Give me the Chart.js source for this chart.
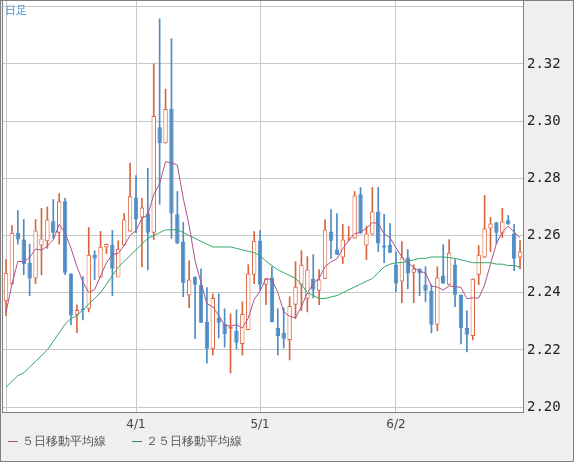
<!DOCTYPE html>
<html>
<head>
<meta charset="utf-8">
<script src="https://cdn.jsdelivr.net/npm/chart.js@4"></script>
<style>
  body { margin: 0; background: #fff; font-family: "DejaVu Sans", sans-serif; }
  #wrap { position: relative; width: 574px; height: 462px; }
  #title { position: absolute; left: 5px; top: 3px; font-size: 11px; color: #3a9ad9; }
  #legend { position: absolute; left: 8px; top: 433px; font-size: 12px; color: #555; }
  #legend span.ln { display: inline-block; width: 10px; height: 1px; vertical-align: middle; margin-right: 4px; }
</style>
</head>
<body>
<div id="wrap">
  <canvas id="chart" width="574" height="462"></canvas>
  <div id="title">日足</div>
  <div id="legend">
    <span class="ln" style="background:#b0528a"></span>５日移動平均線
    <span class="ln" style="background:#2e8b57;margin-left:22px"></span>２５日移動平均線
  </div>
</div>
<script>
// daily OHLC
const opens = [2.237,2.243,2.261,2.2586,2.2505,2.245,2.2565,2.258,2.265,2.261,2.272,2.2467,2.2323,2.2344,2.2344,2.2533,2.2453,2.2558,2.2568,2.2453,2.2565,2.2614,2.2733,2.2663,2.2677,2.261,2.2979,2.2923,2.3042,2.2674,2.2579,2.239,2.2456,2.2428,2.2298,2.2204,2.2312,2.2291,2.2274,2.2267,2.2221,2.227,2.2463,2.2582,2.2428,2.2453,2.2277,2.226,2.2235,2.2358,2.2428,2.2379,2.2449,2.2407,2.2449,2.2614,2.2551,2.2523,2.2586,2.259,2.2744,2.2565,2.2604,2.2684,2.2565,2.2568,2.2498,2.2439,2.2523,2.247,2.2484,2.2428,2.2407,2.2288,2.246,2.2428,2.2498,2.2393,2.2277,2.2249,2.2463,2.2523,2.2625,2.2646,2.2607,2.2653,2.2607,2.2523];
const closes = [2.247,2.261,2.2586,2.250,2.245,2.2618,2.259,2.2656,2.261,2.272,2.247,2.232,2.234,2.234,2.2533,2.252,2.2561,2.257,2.2484,2.2554,2.2656,2.2737,2.2656,2.2698,2.261,2.3018,2.2923,2.3042,2.2677,2.2572,2.2435,2.2446,2.2428,2.2295,2.2204,2.2382,2.2295,2.2256,2.2281,2.2225,2.2326,2.2467,2.2582,2.2428,2.2449,2.2298,2.2249,2.2239,2.2354,2.2421,2.2498,2.2481,2.241,2.2446,2.2621,2.2582,2.2533,2.2586,2.2589,2.274,2.2607,2.2607,2.2684,2.2572,2.2558,2.254,2.2432,2.2523,2.2467,2.2484,2.2467,2.2407,2.2288,2.2453,2.2432,2.254,2.2393,2.2277,2.2253,2.2449,2.2533,2.2625,2.2642,2.261,2.2649,2.2639,2.2519,2.2544];
const highs = [2.2516,2.2635,2.2688,2.2656,2.257,2.2656,2.2695,2.270,2.2726,2.2747,2.273,2.2467,2.2358,2.2456,2.2628,2.2547,2.2614,2.257,2.2618,2.2582,2.2677,2.2853,2.281,2.273,2.2835,2.320,2.3358,2.3112,2.3288,2.2754,2.2646,2.2512,2.2456,2.2484,2.2418,2.2396,2.2396,2.2344,2.2326,2.234,2.2368,2.2498,2.2614,2.2618,2.2449,2.2491,2.2344,2.2347,2.2386,2.2509,2.2547,2.2526,2.2533,2.2481,2.2656,2.2691,2.2677,2.2639,2.2632,2.2754,2.2768,2.2632,2.2768,2.2768,2.2674,2.2642,2.2544,2.2579,2.2551,2.2498,2.2484,2.2491,2.2428,2.2491,2.2568,2.2586,2.2516,2.2393,2.2337,2.2449,2.2565,2.274,2.2663,2.2646,2.2695,2.267,2.2639,2.2582];
const lows = [2.232,2.243,2.257,2.2463,2.239,2.2432,2.2463,2.2555,2.259,2.257,2.2463,2.2288,2.226,2.2305,2.2333,2.2446,2.2453,2.2537,2.239,2.246,2.2565,2.2614,2.261,2.249,2.248,2.2586,2.2709,2.2923,2.259,2.2572,2.2386,2.2347,2.2239,2.2295,2.2154,2.2182,2.2242,2.221,2.2119,2.2204,2.2182,2.227,2.2432,2.241,2.2358,2.2298,2.2182,2.2207,2.2165,2.2309,2.2337,2.2333,2.2382,2.2358,2.2449,2.252,2.2533,2.2502,2.2582,2.259,2.2607,2.2516,2.2604,2.2544,2.2505,2.254,2.2404,2.2365,2.2414,2.2365,2.239,2.2368,2.226,2.2267,2.2432,2.2428,2.2351,2.2221,2.2193,2.2235,2.2428,2.2523,2.2544,2.2572,2.2593,2.2639,2.2477,2.2484];
// closes of the 4 days before the first candle (for the 5-day average)
const prevCloses = [2.211,2.219,2.250,2.238];
// 25-day average as drawn
const ma25 = [2.207,2.209,2.211,2.212,2.214,2.216,2.218,2.220,2.223,2.226,2.229,2.231,2.232,2.234,2.236,2.238,2.240,2.243,2.246,2.249,2.251,2.253,2.255,2.257,2.259,2.260,2.261,2.262,2.262,2.262,2.261,2.260,2.259,2.258,2.257,2.256,2.256,2.256,2.256,2.2555,2.255,2.2545,2.254,2.253,2.251,2.2495,2.248,2.247,2.246,2.245,2.243,2.240,2.239,2.238,2.238,2.2385,2.239,2.240,2.241,2.242,2.243,2.244,2.245,2.247,2.249,2.250,2.2505,2.2505,2.251,2.2515,2.252,2.252,2.2525,2.2525,2.2525,2.2523,2.252,2.2515,2.251,2.2505,2.2505,2.2505,2.2505,2.250,2.250,2.2495,2.2495,2.249];
const xTickIdx = [0, 22, 43, 66];
const xTickText = ["", "4/1", "5/1", "6/2"];
const yTicks = [2.20, 2.22, 2.24, 2.26, 2.28, 2.30, 2.32, 2.34];

const UP = "#d9653f", DOWN = "#4d8cc4";
const labels = opens.map((_, i) => i);
const allC = prevCloses.concat(closes);
const ma5 = closes.map((_, i) => {
  let s = 0;
  for (let k = i; k < i + 5; k++) s += allC[k];
  return s / 5;
});
const up = opens.map((o, i) => closes[i] >= o);

const frame = {
  id: "frame",
  beforeDraw(chart) {
    const { ctx, chartArea: a } = chart;
    ctx.save();
    ctx.fillStyle = "#efefef";
    ctx.fillRect(0, 0, chart.width, chart.height);
    ctx.fillStyle = "#fff";
    ctx.fillRect(a.left, a.top, a.right - a.left, a.bottom - a.top);
    ctx.restore();
  },
  afterDraw(chart) {
    const { ctx, chartArea: a } = chart;
    const y = chart.scales.y;
    ctx.save();
    ctx.strokeStyle = "#808080";
    ctx.lineWidth = 1;
    ctx.strokeRect(a.left - 0.5, a.top - 0.5, a.right - a.left + 1, a.bottom - a.top + 1);
    ctx.strokeRect(0.5, 0.5, chart.width - 1, chart.height - 1);
    // y labels, sitting just above their grid lines
    ctx.fillStyle = "#222";
    ctx.font = "14px 'DejaVu Sans Mono'";
    ctx.textBaseline = "bottom";
    yTicks.slice(0, -1).forEach(v => {
      ctx.fillText(v.toFixed(2), a.right + 4, y.getPixelForValue(v) + 7);
    });
    ctx.restore();
  }
};

new Chart(document.getElementById("chart"), {
  data: {
    labels: labels,
    datasets: [
      { type: "line", data: ma5, borderColor: "#b0528a", borderWidth: 1, pointRadius: 0, order: 0 },
      { type: "line", data: ma25, borderColor: "#2eaa6a", borderWidth: 1, pointRadius: 0, order: 0 },
      {
        type: "bar", grouped: false, order: 1,
        data: opens.map((o, i) => [Math.min(o, closes[i]), Math.max(o, closes[i])]),
        backgroundColor: up.map(u => u ? "#fff" : DOWN),
        borderColor: up.map(u => u ? UP : DOWN),
        borderWidth: 1, borderSkipped: false,
        barPercentage: 0.75, categoryPercentage: 1
      },
      {
        type: "bar", grouped: false, order: 2,
        data: lows.map((l, i) => [l, highs[i]]),
        backgroundColor: up.map(u => u ? UP : DOWN),
        barThickness: 1
      }
    ]
  },
  options: {
    responsive: false,
    animation: false,
    layout: { padding: { left: 3, top: 1, right: 0, bottom: 0 } },
    plugins: { legend: { display: false }, tooltip: { enabled: false } },
    scales: {
      x: {
        offset: true,
        grid: { color: "#c8c8c8", offset: false, drawTicks: false },
        border: { display: false },
        afterBuildTicks: s => { s.ticks = xTickIdx.map(v => ({ value: v })); },
        ticks: {
          autoSkip: false, maxRotation: 0, padding: 6, color: "#444",
          font: { family: "DejaVu Sans", size: 12 },
          callback: (v, i) => xTickText[i]
        },
        afterFit: s => { s.height = 50; }
      },
      y: {
        position: "right",
        min: 2.1983, max: 2.342,
        grid: { color: "#c8c8c8", drawTicks: false },
        border: { display: false },
        afterBuildTicks: s => { s.ticks = yTicks.map(v => ({ value: v })); },
        ticks: { display: false },
        afterFit: s => { s.width = 51; }
      }
    }
  },
  plugins: [frame]
});
</script>
</body>
</html>
